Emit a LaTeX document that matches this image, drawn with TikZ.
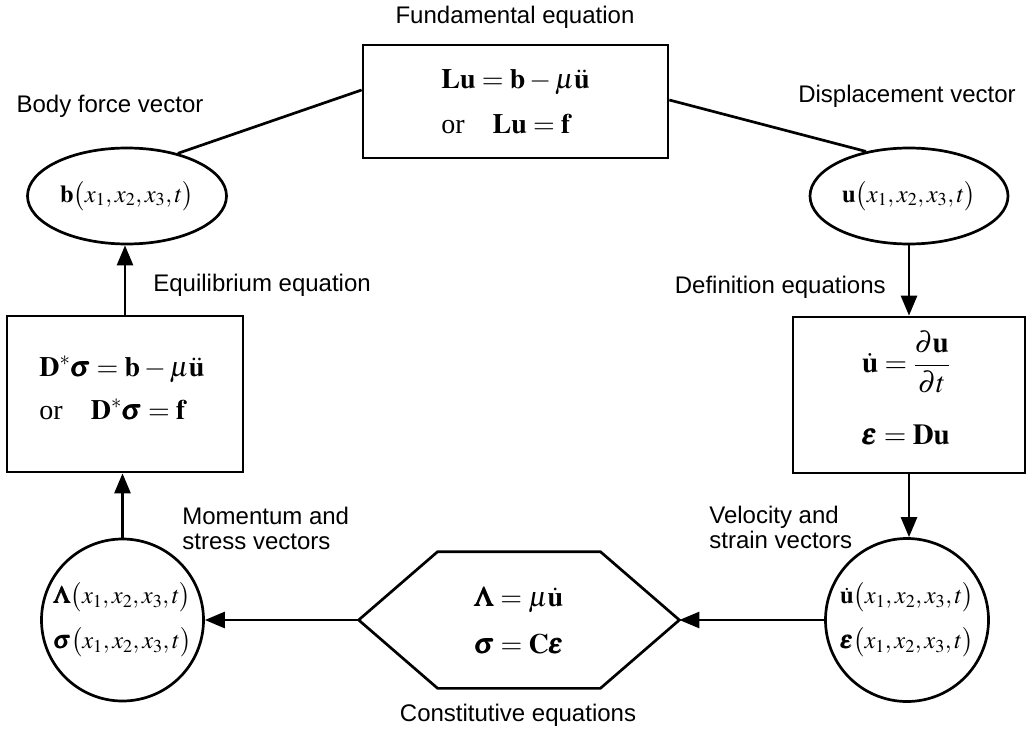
\documentclass[tikz,border=0pt]{standalone}
\usepackage{amsmath}
\usepackage{mathptmx}
\usepackage[no-math]{fontspec}
\setmainfont{Liberation Serif}
\newfontfamily\labfont{Liberation Sans}
\usetikzlibrary{arrows.meta,shapes.geometric}
\begin{document}
\begin{tikzpicture}[x=1pt,y=-1pt, line width=2.7pt,
  box/.style={draw, rectangle, inner sep=0pt},
  lab/.style={font=\labfont\fontsize{24}{25}\selectfont, inner sep=0pt, align=left},
  eq/.style={font=\fontsize{28}{45}\selectfont, align=left},
  eqs/.style={font=\fontsize{24.5}{45}\selectfont, align=center},
  arr/.style={-{Triangle[length=20pt,width=16pt]}, line width=2.7pt},
]
\useasboundingbox (0,0) rectangle (1033,730);

% main shapes
\node[box, eq, minimum width=305pt, minimum height=113pt] (fund) at (515.5,101.5)
  {$\mathbf{Lu}=\mathbf{b}-\mu\ddot{\mathbf{u}}$\\ or\quad $\mathbf{Lu}=\mathbf{f}$};
\node[draw, ellipse, inner sep=0pt, minimum width=199pt, minimum height=96pt, eqs] (bvec) at (127,196)
  {$\mathbf{b}\bigl(x_1,x_2,x_3,t\bigr)$};
\node[draw, ellipse, inner sep=0pt, minimum width=198pt, minimum height=96pt, eqs] (uvec) at (909,196)
  {$\mathbf{u}\bigl(x_1,x_2,x_3,t\bigr)$};
\node[box, minimum width=236pt, minimum height=156pt] (eqbox) at (125,394) {};
\node[eq, inner sep=0pt] (eqtext) at (122,388)
  {$\mathbf{D}^{*}\pmb{\sigma}=\mathbf{b}-\mu\ddot{\mathbf{u}}$\\[-2pt] or\quad $\mathbf{D}^{*}\pmb{\sigma}=\mathbf{f}$};
\node[box, minimum width=232pt, minimum height=156pt] (defbox) at (909,395) {};
\node[inner sep=0pt, font=\fontsize{29}{45}\selectfont] (deft1) at (906,362)
  {$\dot{\mathbf{u}}=\dfrac{\partial\mathbf{u}}{\partial t}$};
\node[inner sep=0pt, font=\fontsize{29}{45}\selectfont] (deft2) at (906,435)
  {$\pmb{\varepsilon}=\mathbf{Du}$};
\node[draw, circle, inner sep=0pt, minimum size=162pt, eqs] (scirc) at (122.5,620)
  {$\pmb{\Lambda}\bigl(x_1,x_2,x_3,t\bigr)$\\ $\pmb{\sigma}\bigl(x_1,x_2,x_3,t\bigr)$};
\node[draw, circle, inner sep=0pt, minimum size=163pt, eqs] (vcirc) at (907,620)
  {$\dot{\mathbf{u}}\bigl(x_1,x_2,x_3,t\bigr)$\\ $\pmb{\varepsilon}\bigl(x_1,x_2,x_3,t\bigr)$};
\node[inner sep=0pt, minimum width=318pt, minimum height=134pt, eq, align=center] (hex) at (519,620)
  {$\pmb{\Lambda}=\mu\dot{\mathbf{u}}$\\[2pt] $\pmb{\sigma}=\mathbf{C}\pmb{\varepsilon}$};
\draw (hex.west) -- ([xshift=79pt]hex.north west) -- ([xshift=-79pt]hex.north east)
  -- (hex.east) -- ([xshift=-79pt]hex.south east) -- ([xshift=79pt]hex.south west) -- cycle;

% labels
\node[lab] (lfund) at (515,17) {Fundamental equation};
\node[lab] (lbody) at (110,106) {Body force vector};
\node[lab] (ldisp) at (907,96) {Displacement vector};
\node[lab, anchor=west] (lequi) at (152,285) {Equilibrium equation};
\node[lab, anchor=east] (ldef) at (887,287) {Definition equations};
\node[lab, anchor=west] (lmom) at (181,528) {Momentum and\\stress vectors};
\node[lab, anchor=west] (lvel) at (708,527) {Velocity and\\strain vectors};
\node[lab] (lcons) at (518,715) {Constitutive equations};

% connectors
\draw ([yshift=11.5pt]fund.west) -- (bvec.40);
\draw ([yshift=1.5pt]fund.east) -- (uvec.134);
\draw[arr] (uvec.south) -- (defbox.north);
\draw[arr] (defbox.south) -- (defbox.south |- vcirc.north);
\draw[arr] (vcirc.west) -- (hex.east);
\draw[arr] (hex.west) -- (scirc.east);
\draw[arr] (scirc.north) -- (scirc.north |- eqbox.south);
\draw[arr] (eqbox.north) -- (eqbox.north |- bvec.south);
\end{tikzpicture}
\end{document}
